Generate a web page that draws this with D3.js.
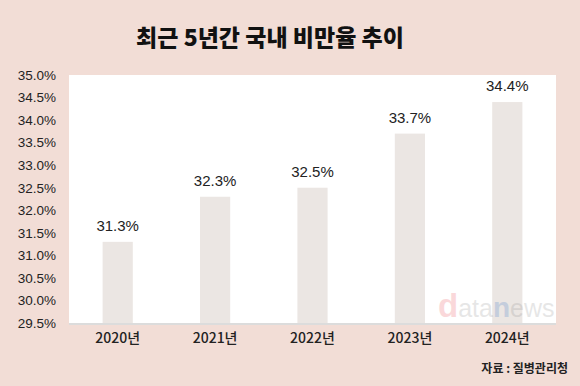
<!DOCTYPE html>
<html><head><meta charset="utf-8">
<script src="https://cdn.jsdelivr.net/npm/d3@7"></script>
<style>body{margin:0;background:#f2ddd6;} svg{display:block;font-family:"Noto Sans CJK KR","Noto Sans",sans-serif;}</style>
</head><body><svg id="c" width="580" height="386"></svg>
<script>
const categories = ["2020년","2021년","2022년","2023년","2024년"];
const values = [31.3, 32.3, 32.5, 33.7, 34.4];
const yTicks = [29.5,30.0,30.5,31.0,31.5,32.0,32.5,33.0,33.5,34.0,34.5,35.0];
const title = "최근 5년간 국내 비만율 추이";
const source = "자료 : 질병관리청";

const svg = d3.select("#c");
const W=580,H=386;
svg.append("rect").attr("width",W).attr("height",H).attr("fill","#f2ddd6");
const m={l:69,r:556,t:75,b:323};
svg.append("rect").attr("x",m.l).attr("y",m.t).attr("width",m.r-m.l).attr("height",m.b-m.t).attr("fill","#ffffff");

const x=d3.scaleBand().domain(categories).range([m.l,m.r]).paddingInner(0.69).paddingOuter(0.345);
const y=d3.scaleLinear().domain([29.5,35]).range([m.b,m.t]);

svg.selectAll("rect.bar").data(values).join("rect").attr("class","bar")
  .attr("x",(d,i)=>x(categories[i])).attr("width",x.bandwidth())
  .attr("y",d=>y(d)).attr("height",d=>m.b-y(d)).attr("fill","#ebe6e3");

// watermark
const wm=svg.append("text").attr("x",438).attr("y",317).attr("text-anchor","start")
  .attr("font-family","'Liberation Sans', Arial, sans-serif").attr("font-size",25).attr("opacity",0.2);
wm.append("tspan").text("d").attr("fill","#e8434a").attr("font-weight",700).attr("font-size",33);
wm.append("tspan").text("ata").attr("fill","#888");
wm.append("tspan").text("n").attr("fill","#2b6cc4").attr("font-weight",700).attr("font-size",28);
wm.append("tspan").text("ews").attr("fill","#888");

// axis line
svg.append("line").attr("x1",m.l).attr("x2",m.r).attr("y1",m.b+1).attr("y2",m.b+1).attr("stroke","#dcdcdc").attr("stroke-width",2);

const ya=svg.append("g").attr("transform",`translate(${m.l-10},0)`)
  .call(d3.axisLeft(y).tickValues(yTicks).tickFormat(d=>d.toFixed(1)+"%").tickSize(0));
ya.select(".domain").remove();
ya.selectAll("text").attr("font-size",13.5).attr("fill","#222").attr("font-family","'Liberation Sans',Arial,sans-serif");

const xa=svg.append("g").attr("transform",`translate(0,${m.b})`)
  .call(d3.axisBottom(x).tickSize(0).tickPadding(10));
xa.select(".domain").remove();
xa.selectAll("text").attr("font-size",14).attr("fill","#222").attr("font-family","'Noto Sans CJK KR',sans-serif").attr("font-weight",500);

svg.selectAll("text.val").data(values).join("text").attr("class","val")
  .attr("x",(d,i)=>x(categories[i])+x.bandwidth()/2).attr("y",d=>y(d)-11)
  .attr("text-anchor","middle").attr("font-size",15).attr("fill","#222")
  .attr("font-family","'Liberation Sans',Arial,sans-serif")
  .text(d=>d.toFixed(1)+"%");

svg.append("text").attr("x",270).attr("y",46).attr("text-anchor","middle")
  .attr("font-size",23).attr("font-weight",900).attr("fill","#111").text(title);

svg.append("text").attr("x",568).attr("y",373).attr("text-anchor","end")
  .attr("font-size",12).attr("font-weight",700).attr("fill","#222").text(source);
</script></body></html>
